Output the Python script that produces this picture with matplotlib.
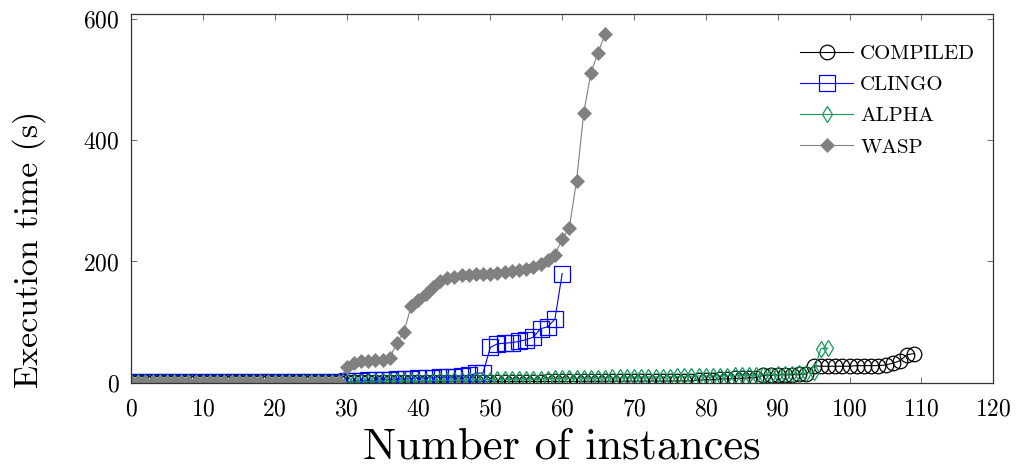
import matplotlib
matplotlib.use("Agg")
import matplotlib.pyplot as plt
import numpy as np

plt.rcParams['font.family'] = ['cmr10', 'DejaVu Serif']
plt.rcParams['mathtext.fontset'] = 'cm'
plt.rcParams['axes.formatter.use_mathtext'] = True

# ---- data ----
compiled = [0.3] * 30 + [
    0.5, 0.5, 0.6, 0.6, 0.7, 0.7, 0.8, 0.8, 0.9, 0.9,
    1.0, 1.0, 1.0, 1.1, 1.1, 1.2, 1.2, 1.3, 1.3, 1.4,
    1.4, 1.5, 1.5, 1.5, 1.6, 1.6, 1.7, 1.7, 1.8, 1.8,
    1.9, 1.9, 2.0, 2.0, 2.1, 2.1, 2.2, 2.2, 2.3, 2.3,
    2.4, 2.4, 2.5, 2.5, 2.6, 2.6, 2.7, 2.7, 2.8,
    4, 5, 5, 6, 6, 7, 7, 8, 8,
    12, 12, 13, 13, 13, 14, 14,
    28, 27, 27, 27, 27, 27, 28, 28, 28, 28,
    29, 32, 36, 46, 48]

clingo = [0.3] * 30 + [
    2, 2.5, 3, 3.5, 4, 4.5, 5, 5.5, 6, 6.5, 7, 7.5, 8, 8.5, 9,
    10, 11, 12, 15, 16,
    58, 64, 65, 66, 68, 71, 75, 89, 92, 105, 180]

alpha = [0.5] * 30 + [
    1.0, 1.2, 1.4, 1.6, 1.8, 2.0, 2.2, 2.4, 2.6, 2.8,
    3.0, 3.2, 3.4, 3.6, 3.8, 4.0, 4.2, 4.4, 4.6, 4.8,
    5.0, 5.2, 5.4, 5.6, 5.8, 6.0, 6.2, 6.4, 6.6, 6.8,
    7.0, 7.2, 7.4, 7.6, 7.8, 8.0, 8.2, 8.4, 8.6, 8.8,
    9.0, 9.2, 9.4, 9.6, 9.8, 10.0, 10.2, 10.4, 10.6, 10.8,
    11.0, 11.2, 11.4, 11.6, 11.8, 12.0, 12.2, 12.4,
    13, 13, 13.5, 14, 14.5, 15, 15.5, 17,
    56, 57]

wasp = [0.8] * 30 + [
    26, 33, 35, 36, 37, 38, 40, 66, 84, 127,
    136, 147, 158, 168, 173, 175, 177, 178, 179, 180,
    180, 181, 182, 184, 186, 188, 191, 195, 203, 211,
    237, 256, 333, 445, 512, 545, 576]

labels = ['COMPILED', 'CLINGO', 'ALPHA', 'WASP']
x_ticks = [0, 10, 20, 30, 40, 50, 60, 70, 80, 90, 100, 110, 120]
y_ticks = [0, 200, 400, 600]

GREEN = '#13995a'
GRAY = '#808080'

fig = plt.figure(figsize=(10.18, 4.72), dpi=100)
ax = fig.add_axes([131 / 1018, 1 - 383.3 / 472, (993.3 - 131) / 1018, (383.3 - 14) / 472])

lw = 0.8
ax.plot(np.arange(len(compiled)), compiled, color='black', lw=lw, marker='o',
        ms=10.5, mfc='none', mec='black', mew=0.9, label=labels[0])
ax.plot(np.arange(len(clingo)), clingo, color='blue', lw=lw, marker='s',
        ms=11, mfc='none', mec='blue', mew=0.9, label=labels[1])
ax.plot(np.arange(len(alpha)), alpha, color=GREEN, lw=lw, marker='d',
        ms=7.8, mfc='none', mec=GREEN, mew=0.9, label=labels[2])
ax.plot(np.arange(len(wasp)), wasp, color=GRAY, lw=lw, marker='D',
        ms=7, mfc=GRAY, mec=GRAY, mew=0.5, label=labels[3])

ax.set_xlim(0, 120)
ax.set_ylim(-1.2, 608.7)
ax.set_xticks(x_ticks)
ax.set_yticks(y_ticks)
ax.tick_params(direction='in', top=True, right=True, length=4, width=0.6,
               color='#555555', labelsize=17)
ax.tick_params(axis='x', pad=11)
ax.tick_params(axis='y', pad=8)
for s in ax.spines.values():
    s.set_linewidth(0.9)
    s.set_color('#333333')

ax.set_xlabel('Number of instances', fontsize=32, labelpad=5)
ax.set_ylabel('Execution time (s)', fontsize=24.5)
ax.yaxis.set_label_coords(-0.098, 0.362)

leg = ax.legend(loc='upper left', bbox_to_anchor=(0.7758, 0.918), frameon=False,
                fontsize=15, handlelength=2.55, handletextpad=0.34,
                labelspacing=0.61, borderaxespad=0, borderpad=0)

fig.savefig('out.png', dpi=100)
